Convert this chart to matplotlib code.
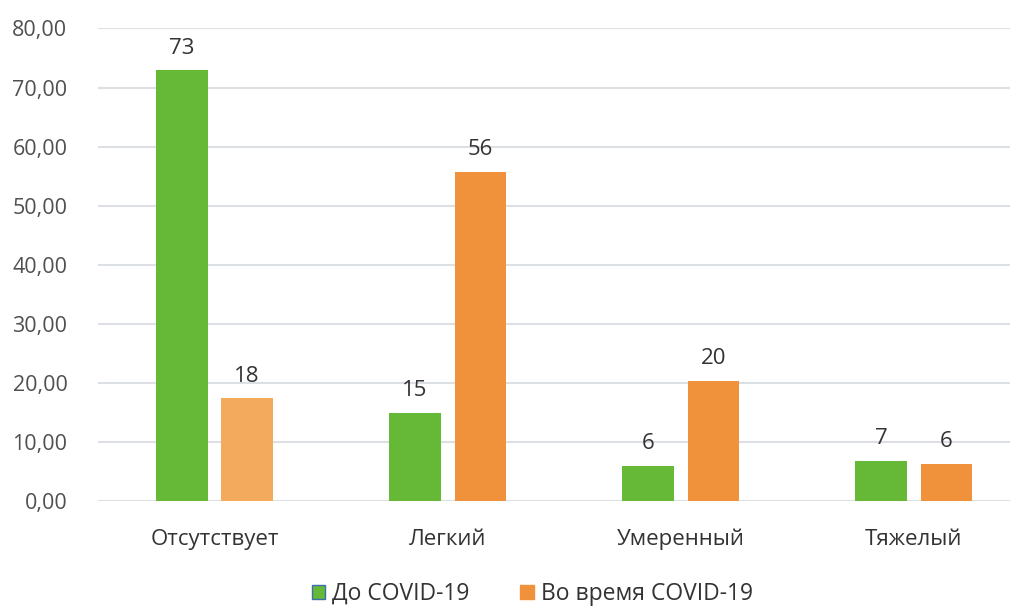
import matplotlib
matplotlib.use("Agg")
import matplotlib.pyplot as plt
import numpy as np
from matplotlib.patches import Patch

categories = ["Отсутствует", "Легкий", "Умеренный", "Тяжелый"]
before = [72.9, 14.9, 5.9, 6.8]
during = [17.4, 55.7, 20.3, 6.3]
before_labels = ["73", "15", "6", "7"]
during_labels = ["18", "56", "20", "6"]
series_names = ["До COVID-19", "Во время COVID-19"]

plt.rcParams['font.family'] = ['Open Sans', 'DejaVu Sans']

green = "#66b936"
orange = "#f0913c"
orange_colors = ["#f4aa5c", orange, orange, orange]

fig = plt.figure(figsize=(10.1, 6.06), dpi=100)
ax = fig.add_axes([0.097, 0.173, 0.923, 0.78])

x = np.arange(len(categories))
w = 0.22
off = 0.14
b1 = ax.bar(x - off, before, w, color=green, zorder=3)
b2 = ax.bar(x + off, during, w, color=orange_colors, zorder=3)

for rect, lab in zip(b1, before_labels):
    ax.text(rect.get_x() + rect.get_width() / 2, rect.get_height() + 2.0, lab,
            ha="center", va="bottom", fontsize=16, color="#333333")
for rect, lab in zip(b2, during_labels):
    ax.text(rect.get_x() + rect.get_width() / 2, rect.get_height() + 2.0, lab,
            ha="center", va="bottom", fontsize=16, color="#333333")

ax.set_ylim(0, 80)
ax.set_xlim(-0.5, 3.5)
ax.set_yticks(np.arange(0, 81, 10))
ax.set_yticklabels([f"{v:.2f}".replace(".", ",") for v in np.arange(0, 81, 10)])
ax.set_xticks(x)
ax.set_xticklabels(categories)
ax.tick_params(axis="both", length=0, labelsize=16, labelcolor="#505050")
ax.tick_params(axis="x", pad=20, labelcolor="#333333")
ax.tick_params(axis="y", pad=22, labelsize=15.5)
ax.grid(axis="y", color="#dcdfe3", lw=1.5, zorder=0)
for s in ax.spines.values():
    s.set_visible(False)

handles = [Patch(facecolor=green, edgecolor="#3d6fb0", lw=1),
           Patch(facecolor=orange, edgecolor=orange)]
fig.legend(handles, series_names, loc="center", bbox_to_anchor=(0.527, 0.02),
           ncol=2, frameon=False, fontsize=16.5, handlelength=0.6, handleheight=0.6,
           handletextpad=0.3, columnspacing=2.2, labelcolor="#333333")

fig.savefig("out.png", dpi=100)
